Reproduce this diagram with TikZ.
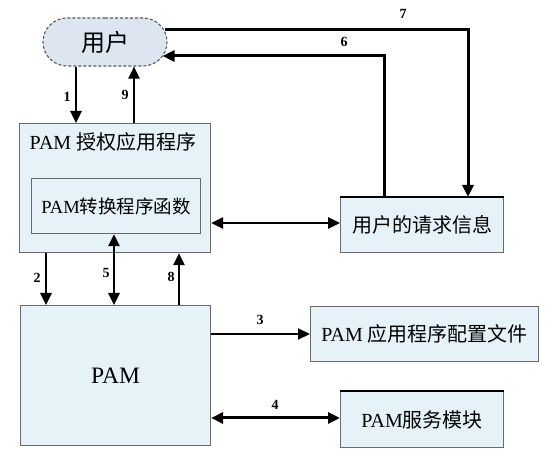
\documentclass[tikz,border=0pt]{standalone}
\usepackage{fontspec}
\setmainfont{Liberation Serif}
\newfontfamily\zhfont{Noto Sans CJK SC}
\usetikzlibrary{arrows.meta,shapes.misc}
\definecolor{boxfill}{HTML}{E5F3F8}
\definecolor{userfill}{HTML}{DDE6F0}
\definecolor{boxline}{HTML}{6A6A6A}
\newcommand\zh[1]{{\zhfont #1}}
\begin{document}
\begin{tikzpicture}[x=1pt,y=-1pt,
  box/.style={draw=boxline, line width=1.1pt, fill=boxfill, inner sep=0pt, anchor=north west, text=black},
  txt/.style={inner sep=0pt, text=black},
  lab/.style={inner sep=0pt, font=\bfseries\fontsize{14}{14}\selectfont},
  arr/.style={line width=2.5pt, -{Triangle[length=12pt,width=11pt]}},
  darr/.style={line width=2.5pt, {Triangle[length=12pt,width=11pt]}-{Triangle[length=12pt,width=11pt]}}]
\useasboundingbox (0,0) rectangle (552,462);
\fill[white] (0,0) rectangle (552,462);
% nodes
\node[rounded rectangle, draw=black!65, densely dashed, line width=1.1pt, fill=userfill,
      minimum width=124pt, minimum height=48pt, inner sep=0pt] (user) at (105,42)
      {\fontsize{24}{26}\selectfont\zh{用户}};
\node[box, minimum width=191pt, minimum height=129pt] (app) at (19,123) {};
\node[txt, font=\fontsize{20}{22}\selectfont] (apptitle) at (113,142) {PAM \zh{授权应用程序}};
\node[box, minimum width=169pt, minimum height=55pt] (inner) at (31,178)
      {\fontsize{18.5}{20}\selectfont PAM\zh{转换程序函数}};
\node[box, minimum width=163pt, minimum height=55pt] (req) at (340,197)
      {\fontsize{20}{22}\selectfont\zh{用户的请求信息}};
\node[box, minimum width=190pt, minimum height=140pt] (pam) at (20,305)
      {\fontsize{23.5}{26}\selectfont PAM};
\node[box, minimum width=228pt, minimum height=55pt] (cfg) at (310,306)
      {\fontsize{20}{22}\selectfont PAM \zh{应用程序配置文件}};
\node[box, minimum width=163pt, minimum height=56pt] (svc) at (340,391)
      {\fontsize{20}{22}\selectfont PAM\zh{服务模块}};
\draw[line width=2pt] (req.north west) -- (req.north east);
\draw[line width=2pt] (svc.north west) -- (svc.north east);
% helper coordinates
\coordinate (x1) at (76,0);
\coordinate (x9) at (134,0);
\coordinate (y7) at (0,30);
\coordinate (x7) at (468,0);
\coordinate (y6) at (0,56);
\coordinate (x6) at (384,0);
\coordinate (yr) at (0,223);
\coordinate (x2) at (46,0);
\coordinate (x5) at (114,0);
\coordinate (x8) at (179,0);
\coordinate (y3) at (0,334);
\coordinate (y4) at (0,418);
% connectors
\draw[arr] (x1 |- user.south) -- (x1 |- app.north);
\draw[arr] (x9 |- app.north) -- (x9 |- user.south);
\draw[arr, line width=3pt, shorten <=-3pt] (user.east |- y7) -- (x7 |- y7) -- (x7 |- req.north);
\draw[arr, line width=3pt, shorten >=-5pt] (x6 |- req.north) -- (x6 |- y6) -- (user.east |- y6);
\draw[darr] (app.east |- yr) -- (req.west |- yr);
\draw[arr] (x2 |- app.south) -- (x2 |- pam.north);
\draw[darr] (x5 |- inner.south) -- (x5 |- pam.north);
\draw[arr] (x8 |- pam.north) -- (x8 |- app.south);
\draw[arr, line width=2pt] (pam.east |- y3) -- (cfg.west |- y3);
\draw[darr, line width=3pt] (pam.east |- y4) -- (svc.west |- y4);
% labels
\node[lab] (l1) at (67,97) {1};
\node[lab] (l9) at (125,95) {9};
\node[lab] (l7) at (403,14) {7};
\node[lab] (l6) at (344,42) {6};
\node[lab] (l2) at (37,278) {2};
\node[lab] (l5) at (106,273) {5};
\node[lab] (l8) at (171,277) {8};
\node[lab] (l3) at (260,320) {3};
\node[lab] (l4) at (275,405) {4};
\end{tikzpicture}
\end{document}
